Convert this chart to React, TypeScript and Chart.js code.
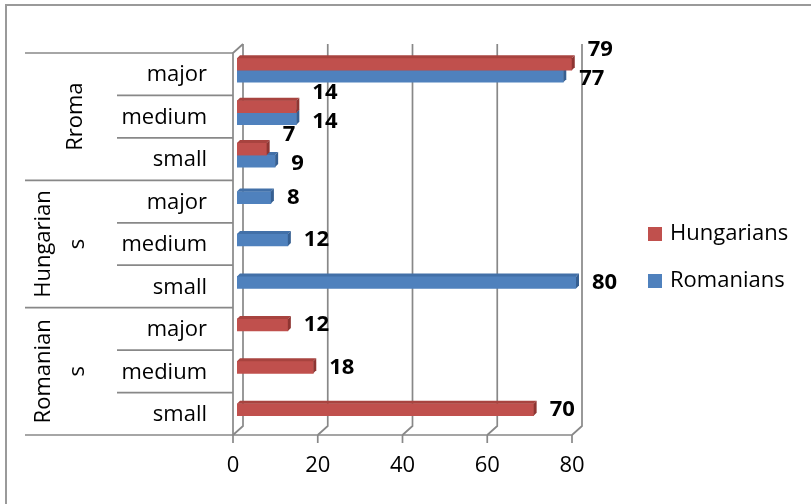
import React, { useEffect, useRef } from "react";
import { Chart, registerables } from "chart.js";

Chart.register(...registerables);

const categories = ["major", "medium", "small", "major", "medium", "small", "major", "medium", "small"];
const groups = [["Rroma"], ["Hungarian", "s"], ["Romanian", "s"]];
const groupSize = 3;
const seriesNames = ["Hungarians", "Romanians"];
const hungarians = [79, 14, 7, null, null, null, 12, 18, 70];
const romanians = [77, 14, 9, 8, 12, 80, null, null, null];
const xTicks = [0, 20, 40, 60, 80];

const seriesColors = ["#C0504D", "#4F81BD"];
const topColors = ["#A8433F", "#4270A8"];
const endColors = ["#8E3532", "#365F91"];

const FONT = "'Open Sans', 'DejaVu Sans', sans-serif";
const FX = -4; // front plane offset from bar plane
const FY = 4;
const BX = 10; // back plane offset from front plane
const BY = -9;
const D = 3; // bar depth

const decor = {
  id: "decor",
  beforeDraw(chart: any) {
    const ctx = chart.ctx;
    ctx.save();
    ctx.fillStyle = "#ffffff";
    ctx.fillRect(0, 0, chart.width, chart.height);
    ctx.strokeStyle = "#9A9A9A";
    ctx.lineWidth = 2;
    ctx.beginPath();
    ctx.moveTo(6, chart.height);
    ctx.lineTo(6, 5);
    ctx.lineTo(chart.width, 5);
    ctx.stroke();
    ctx.restore();
  },
  beforeDatasetsDraw(chart: any) {
    const { ctx, chartArea, scales } = chart;
    const xs = scales.x;
    const ys = scales.y;
    const fTop = chartArea.top + FY;
    const fBot = chartArea.bottom + FY;
    ctx.save();
    ctx.strokeStyle = "#888888";
    ctx.lineWidth = 1.7;
    xTicks.forEach((v) => {
      const fx = xs.getPixelForValue(v) + FX;
      ctx.beginPath();
      ctx.moveTo(fx, fBot);
      ctx.lineTo(fx + BX, fBot + BY);
      ctx.lineTo(fx + BX, fTop + BY);
      ctx.stroke();
      ctx.beginPath();
      ctx.moveTo(fx, fBot);
      ctx.lineTo(fx, fBot + 8);
      ctx.stroke();
    });
    const f0 = xs.getPixelForValue(xTicks[0]) + FX;
    const fEnd = xs.getPixelForValue(xTicks[xTicks.length - 1]) + FX;
    ctx.beginPath();
    ctx.moveTo(f0 + BX, fTop + BY);
    ctx.lineTo(f0, fTop);
    ctx.lineTo(f0, fBot);
    ctx.lineTo(fEnd, fBot);
    ctx.stroke();

    // category separator lines
    const n = categories.length;
    const rowH = (chartArea.bottom - chartArea.top) / n;
    for (let i = 0; i <= n; i++) {
      const yy = ys.getPixelForValue(0) - rowH / 2 + i * rowH + FY;
      const long = i % groupSize === 0;
      ctx.beginPath();
      ctx.moveTo(long ? 25 : 117, yy);
      ctx.lineTo(f0, yy);
      ctx.stroke();
    }

    // x tick labels
    ctx.fillStyle = "#000";
    ctx.font = `22px ${FONT}`;
    ctx.textAlign = "center";
    ctx.textBaseline = "middle";
    xTicks.forEach((v) => {
      ctx.fillText(String(v), xs.getPixelForValue(v) + FX, fBot + 31);
    });

    // category labels
    ctx.textAlign = "right";
    categories.forEach((c, i) => {
      ctx.fillText(c, 207, ys.getPixelForValue(i) + FY + 1);
    });

    // group labels (rotated)
    groups.forEach((lines, g) => {
      const cy = (ys.getPixelForValue(g * groupSize) + ys.getPixelForValue(g * groupSize + groupSize - 1)) / 2 + FY;
      lines.forEach((t, li) => {
        const cx = lines.length === 1 ? 76 : 44 + li * 34;
        ctx.save();
        ctx.translate(cx, cy);
        ctx.rotate(-Math.PI / 2);
        ctx.textAlign = "center";
        ctx.textBaseline = "middle";
        ctx.fillText(t, 0, 0);
        ctx.restore();
      });
    });

    // legend
    seriesNames.forEach((name, i) => {
      const ly = 234 + i * 47;
      ctx.fillStyle = seriesColors[i];
      ctx.fillRect(648, ly - 7, 14, 14);
      ctx.fillStyle = "#000";
      ctx.textAlign = "left";
      ctx.textBaseline = "middle";
      ctx.fillText(name, 670, ly);
    });
    ctx.restore();
  },
  afterDatasetDraw(chart: any, args: any) {
    const ctx = chart.ctx;
    const di = args.index;
    const meta = args.meta;
    ctx.save();
    meta.data.forEach((el: any, j: number) => {
      const v = chart.data.datasets[di].data[j];
      if (v === null || v === undefined) return;
      const { x, y, base, height } = el.getProps(["x", "y", "base", "height"], true);
      const top = y - height / 2;
      const bot = y + height / 2;
      ctx.fillStyle = topColors[di];
      ctx.beginPath();
      ctx.moveTo(base, top);
      ctx.lineTo(base + D, top - D);
      ctx.lineTo(x + D, top - D);
      ctx.lineTo(x, top);
      ctx.closePath();
      ctx.fill();
      ctx.fillStyle = endColors[di];
      ctx.beginPath();
      ctx.moveTo(x, top);
      ctx.lineTo(x + D, top - D);
      ctx.lineTo(x + D, bot - D);
      ctx.lineTo(x, bot);
      ctx.closePath();
      ctx.fill();
    });
    ctx.restore();
  },
  afterDatasetsDraw(chart: any) {
    const ctx = chart.ctx;
    ctx.save();
    ctx.fillStyle = "#000";
    ctx.font = `bold 22px ${FONT}`;
    ctx.textAlign = "left";
    ctx.textBaseline = "middle";
    const ds = chart.data.datasets;
    ds.forEach((d: any, di: number) => {
      const meta = chart.getDatasetMeta(di);
      meta.data.forEach((el: any, j: number) => {
        const v = d.data[j];
        if (v === null || v === undefined) return;
        const both = ds.every((o: any) => o.data[j] !== null && o.data[j] !== undefined);
        let dy = 0;
        if (both) dy = di === 0 ? -14 : 3;
        ctx.fillText(String(v), el.x + 16, el.y + dy);
      });
    });
    ctx.restore();
  },
};

export default function App() {
  const ref = useRef<HTMLCanvasElement | null>(null);
  useEffect(() => {
    if (!ref.current) return;
    const chart = new Chart(ref.current, {
      type: "bar",
      data: {
        labels: categories,
        datasets: [
          { label: seriesNames[0], data: hungarians, backgroundColor: seriesColors[0], borderWidth: 0 },
          { label: seriesNames[1], data: romanians, backgroundColor: seriesColors[1], borderWidth: 0 },
        ],
      },
      options: {
        indexAxis: "y",
        animation: false,
        responsive: true,
        maintainAspectRatio: false,
        skipNull: true,
        barThickness: 12,
        layout: { padding: { left: 237, right: 235, top: 49, bottom: 73 } },
        scales: {
          x: { type: "linear", min: 0, max: 80, display: false },
          y: { type: "category", display: false },
        },
        plugins: { legend: { display: false }, tooltip: { enabled: false } },
      } as any,
      plugins: [decor],
    });
    return () => chart.destroy();
  }, []);
  return (
    <div style={{ position: "fixed", left: 0, top: 0, width: 811, height: 504, background: "#fff" }}>
      <canvas ref={ref} />
    </div>
  );
}
